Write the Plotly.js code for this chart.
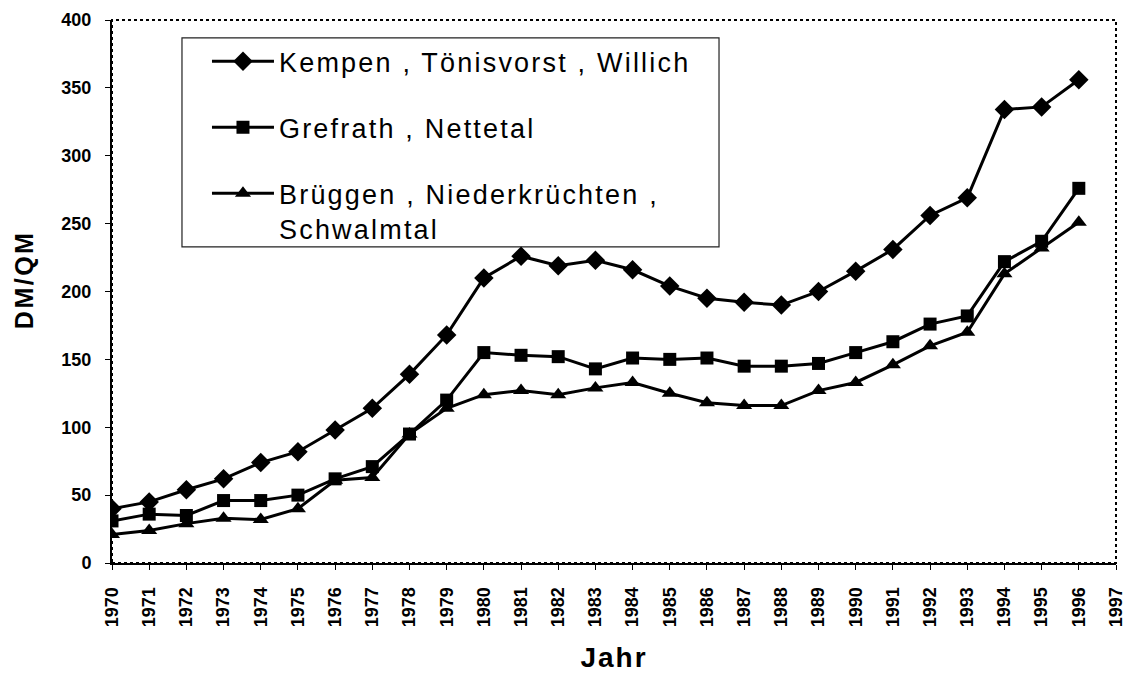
<!DOCTYPE html>
<html>
<head>
<meta charset="utf-8">
<script src="https://cdn.plot.ly/plotly-3.0.1.min.js"></script>
<style>
html,body{margin:0;padding:0;background:#fff;}
#chart{width:1127px;height:673px;}
.legendtext{letter-spacing:2.2px;}
.annotation-text{letter-spacing:2.5px;}
.xtitle{letter-spacing:2px;}
</style>
</head>
<body>
<div id="chart"></div>
<script>
const years = [1970,1971,1972,1973,1974,1975,1976,1977,1978,1979,1980,1981,1982,1983,1984,1985,1986,1987,1988,1989,1990,1991,1992,1993,1994,1995,1996];
const kempen = [40,45,54,62,74,82,98,114,139,168,210,226,219,223,216,204,195,192,190,200,215,231,256,269,334,336,356];
const grefrath = [31,36,35,46,46,50,62,71,95,120,155,153,152,143,151,150,151,145,145,147,155,163,176,182,222,237,276];
const brueggen = [21,24,29,33,32,40,61,63,95,114,124,127,124,129,133,125,118,116,116,127,133,146,160,170,213,232,251];
const seriesNames = ["Kempen , Tönisvorst , Willich", "Grefrath , Nettetal", "Brüggen , Niederkrüchten ,<br>Schwalmtal"];
const tickYears = [1970,1971,1972,1973,1974,1975,1976,1977,1978,1979,1980,1981,1982,1983,1984,1985,1986,1987,1988,1989,1990,1991,1992,1993,1994,1995,1996,1997];
const yTicks = [0,50,100,150,200,250,300,350,400];

const font = "Liberation Sans, Arial, Helvetica, sans-serif";
const line = {color:"#000", width:3};
const traces = [
  {x:years, y:kempen, name:seriesNames[0], mode:"lines+markers", line:line, marker:{symbol:"diamond", size:15, color:"#000"}, legendgroup:"a"},
  {x:years, y:grefrath, name:seriesNames[1], mode:"lines+markers", line:line, marker:{symbol:"square", size:13, color:"#000"}, legendgroup:"b"},
  {x:years, y:brueggen, name:seriesNames[2], mode:"lines+markers", line:line, marker:{symbol:"triangle-up", size:14, color:"#000"}, legendgroup:"c"}
];
const layout = {
  width:1127, height:673,
  margin:{l:112, r:11, t:20, b:110},
  paper_bgcolor:"#fff", plot_bgcolor:"#fff",
  font:{family:font, color:"#000"},
  showlegend:true,
  legend:{
    x:0.0946, y:0.9685, xanchor:"left", yanchor:"top",
    bgcolor:"rgba(0,0,0,0)", borderwidth:0,
    font:{family:font, size:27, color:"#000"},
    traceorder:"grouped", tracegroupgap:28, valign:"top",
    itemwidth:62
  },
  xaxis:{
    type:"linear", range:[1970,1997], tickmode:"array", tickvals:tickYears, ticktext:tickYears.map(String),
    tickangle:-90, tickfont:{family:font, size:18, color:"#000", weight:"bold"},
    showgrid:false, zeroline:false, showline:true, linecolor:"#000", linewidth:2,
    ticks:"outside", ticklen:5, tickcolor:"#000", ticklabelstandoff:10,
    title:{text:"<b>Jahr</b>", font:{family:font, size:28, color:"#000"}, standoff:38}
  },
  yaxis:{
    range:[0,400], tickmode:"array", tickvals:yTicks,
    tickfont:{family:font, size:18, color:"#000", weight:"bold"},
    showgrid:false, zeroline:false, showline:true, linecolor:"#000", linewidth:2,
    ticks:"outside", ticklen:5, tickcolor:"#000", ticklabelstandoff:10
  },
  annotations:[
    {text:"<b>DM/QM</b>", xref:"paper", yref:"paper", x:-0.0876, y:0.521, xanchor:"center", yanchor:"middle",
     textangle:-90, showarrow:false, font:{family:font, size:25, color:"#000"}}
  ],
  shapes:[
    {type:"rect", xref:"paper", yref:"paper", x0:0, x1:1, y0:0, y1:1, line:{color:"#000", width:2, dash:"dot"}},
    {type:"rect", xref:"paper", yref:"paper", x0:0.0697, x1:0.6046, y0:0.582, y1:0.9669, line:{color:"#222", width:1.2}, fillcolor:"#fff", layer:"below"}
  ]
};
Plotly.newPlot("chart", traces, layout, {displayModeBar:false, staticPlot:true});
</script>
</body>
</html>
